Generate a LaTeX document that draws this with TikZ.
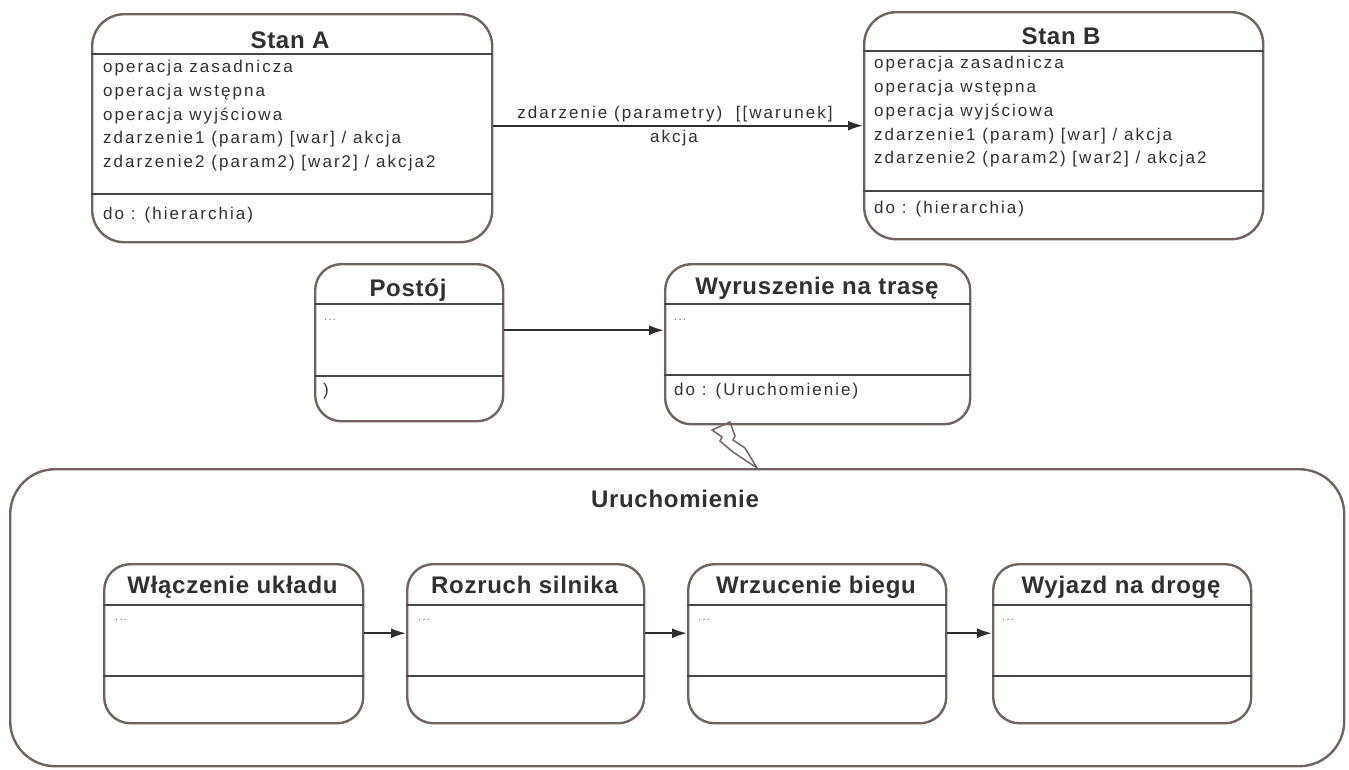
\documentclass[tikz,border=0pt]{standalone}
\usepackage{fontspec}
\setmainfont{Liberation Sans}
\newfontfamily\bodyfont{Liberation Sans}[LetterSpace=12]
\newfontfamily\headfont{Liberation Sans}[LetterSpace=3]
\usetikzlibrary{arrows.meta,calc}
\definecolor{edge}{RGB}{112,100,96}
\definecolor{sepc}{RGB}{72,70,70}
\definecolor{txt}{RGB}{48,48,48}
\definecolor{arrc}{RGB}{45,45,45}
\begin{document}
\begin{tikzpicture}[x=1pt,y=-1pt,
  statebox/.style={draw=edge, line width=2.4pt, rounded corners=#1, anchor=north west, inner sep=0pt},
  sepline/.style={draw=sepc, line width=1.6pt},
  body/.style={anchor=base west, inner sep=0pt, text=txt, font=\bodyfont\fontsize{17}{20}\selectfont},
  head/.style={anchor=base, inner sep=0pt, text=txt, font=\headfont\bfseries\fontsize{24}{28}\selectfont},
  dots/.style={anchor=base west, inner sep=0pt, text=txt!70, font=\bodyfont\fontsize{11}{13}\selectfont},
  trans/.style={draw=arrc, line width=2pt, -{Latex[length=15pt,width=10pt]}},
  bolt/.style={draw=edge, line width=1.5pt, line join=miter}]
\useasboundingbox (0,0) rectangle (1349,769);

% ---------- Stan A ----------
\node[statebox=32, minimum width=400, minimum height=228] (A) at (91,13) {};
\draw[sepline] ($(A.north west)+(0,41)$) -- ($(A.north east)+(0,41)$);
\draw[sepline] ($(A.north west)+(0,181)$) -- ($(A.north east)+(0,181)$);
\node[head] (Atitle) at (290,48) {Stan A};
\node[body] (A1) at (103,72) {operacja zasadnicza};
\node[body] (A2) at (103,96) {operacja wstępna};
\node[body] (A3) at (103,120) {operacja wyjściowa};
\node[body] (A4) at (103,143.5) {zdarzenie1 (param) [war] / akcja};
\node[body] (A5) at (103,167) {zdarzenie2 (param2) [war2] / akcja2};
\node[body] (A6) at (103,219) {do : (hierarchia)};

% ---------- Stan B ----------
\node[statebox=32, minimum width=399, minimum height=227] (B) at (863,11) {};
\draw[sepline] ($(B.north west)+(0,40)$) -- ($(B.north east)+(0,40)$);
\draw[sepline] ($(B.north west)+(0,180)$) -- ($(B.north east)+(0,180)$);
\node[head] (Btitle) at (1061,44) {Stan B};
\node[body] (B1) at (874,68.5) {operacja zasadnicza};
\node[body] (B2) at (874,92) {operacja wstępna};
\node[body] (B3) at (874,116) {operacja wyjściowa};
\node[body] (B4) at (874,140) {zdarzenie1 (param) [war] / akcja};
\node[body] (B5) at (874,163) {zdarzenie2 (param2) [war2] / akcja2};
\node[body] (B6) at (874,213) {do : (hierarchia)};

% transition A -> B with its label
\draw[trans] (A.east |- B.west) -- (B.west);
\node[body, anchor=base] (lab1) at (675,118) {zdarzenie (parametry)\ \ [[warunek]};
\node[body, anchor=base] (lab2) at (674,142) {akcja};

% ---------- Postój ----------
\node[statebox=26, minimum width=188, minimum height=157] (P) at (314,263) {};
\draw[sepline] ($(P.north west)+(0,41)$) -- ($(P.north east)+(0,41)$);
\draw[sepline] ($(P.north west)+(0,113)$) -- ($(P.north east)+(0,113)$);
\node[head] (Ptitle) at (408,296) {Postój};
\node[dots] (P1) at (324,320) {...};
\node[body] (P2) at (323,395) {)};

% ---------- Wyruszenie na trasę ----------
\node[statebox=26, minimum width=305, minimum height=160] (W) at (664,263) {};
\draw[sepline] ($(W.north west)+(0,41)$) -- ($(W.north east)+(0,41)$);
\draw[sepline] ($(W.north west)+(0,112)$) -- ($(W.north east)+(0,112)$);
\node[head] (Wtitle) at (817,294) {Wyruszenie na trasę};
\node[dots] (W1) at (674,320) {...};
\node[body] (W2) at (674,395) {do : (Uruchomienie)};

\draw[trans] ([yshift=12.5pt]P.east) -- ([yshift=12.5pt]P.east -| W.west);

% ---------- Uruchomienie (composite state) ----------
\node[statebox=45, minimum width=1334, minimum height=297] (U) at (9,468) {};
\node[head] (Utitle) at (675,507) {Uruchomienie};

% decomposition bolt between W and U
\draw[bolt] (712,430) -- (730,422) -- (735,436) -- (733,440) -- (745,448)
  -- (757,468) -- (733,452) -- (720,441) -- (722,437) -- cycle;

% ---------- inner states ----------
\node[statebox=26, minimum width=259, minimum height=159] (S1) at (103,563) {};
\node[statebox=26, minimum width=237, minimum height=159] (S2) at (406,563) {};
\node[statebox=26, minimum width=258, minimum height=159] (S3) at (687,563) {};
\node[statebox=26, minimum width=258, minimum height=159] (S4) at (992,563) {};
\foreach \s in {S1,S2,S3,S4}{
  \draw[sepline] ($(\s.north west)+(0,42)$) -- ($(\s.north east)+(0,42)$);
  \draw[sepline] ($(\s.north west)+(0,113)$) -- ($(\s.north east)+(0,113)$);
}
\node[head] (S1title) at (232.5,593) {Włączenie układu};
\node[head] (S2title) at (524.5,593) {Rozruch silnika};
\node[head] (S3title) at (816,593) {Wrzucenie biegu};
\node[head] (S4title) at (1121,593) {Wyjazd na drogę};
\node[dots] (S1d) at (115,620) {...};
\node[dots] (S2d) at (418,620) {...};
\node[dots] (S3d) at (698,620) {...};
\node[dots] (S4d) at (1002,620) {...};

\draw[trans] ([yshift=10.5pt]S1.east) -- ([yshift=10.5pt]S1.east -| S2.west);
\draw[trans] ([yshift=10.5pt]S2.east) -- ([yshift=10.5pt]S2.east -| S3.west);
\draw[trans] ([yshift=10.5pt]S3.east) -- ([yshift=10.5pt]S3.east -| S4.west);
\end{tikzpicture}
\end{document}
